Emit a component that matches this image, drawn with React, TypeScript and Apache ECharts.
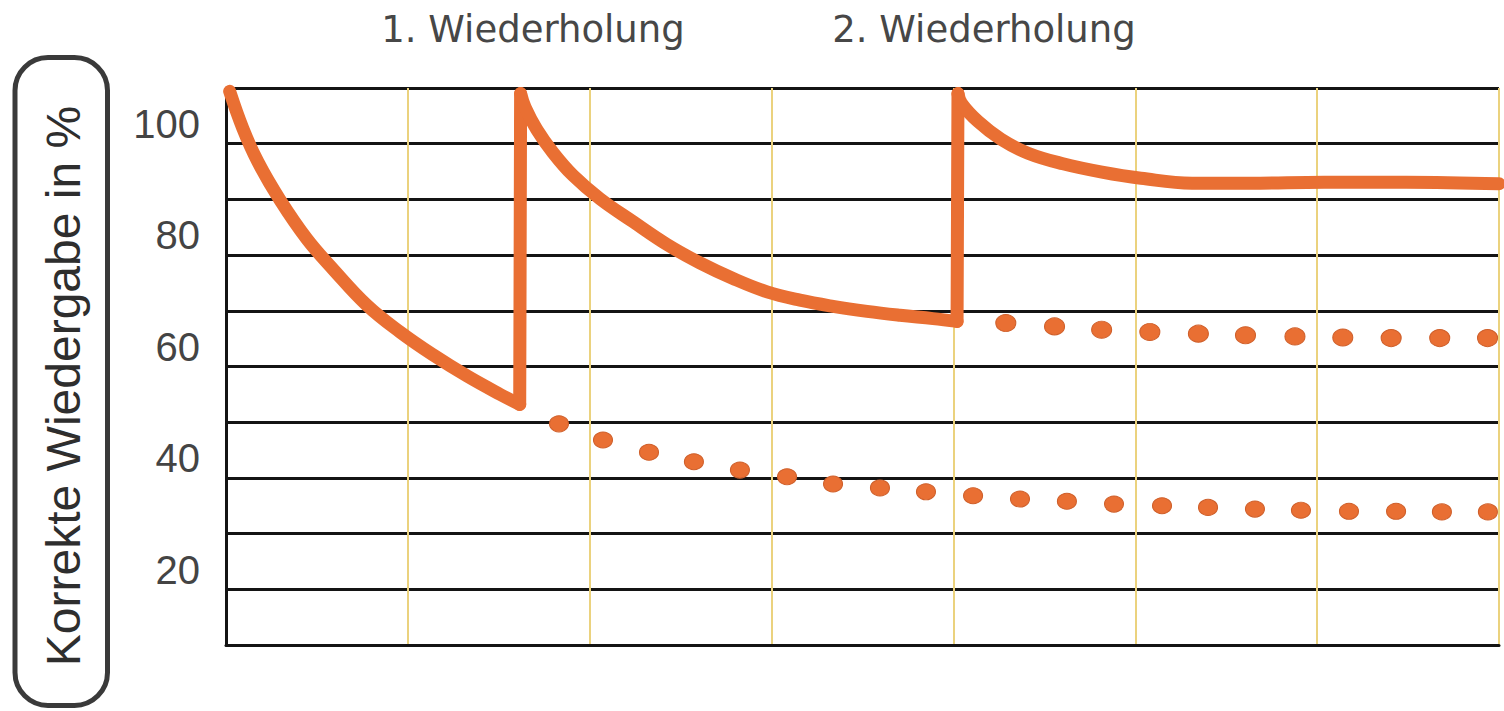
import React, { useEffect, useRef } from "react";
import * as echarts from "echarts";

// ---- data (x: grid columns 0..7, y: percent) ----
const yTickLabels = [20, 40, 60, 80, 100];
const repetitionLabels = ["1. Wiederholung", "2. Wiederholung"];
const yAxisTitle = "Korrekte Wiedergabe in %";

const curveBeforeFirst: [number, number][] = [
  [0.02, 99.4], [0.093, 92.7], [0.176, 86.7], [0.297, 79.9], [0.445, 72.9],
  [0.588, 67.5], [0.775, 61.0], [0.957, 56.2], [1.138, 52.1], [1.325, 48.3],
  [1.507, 45.0], [1.615, 43.2],
];
const curveAfterFirst: [number, number][] = [
  [1.62, 99.0], [1.645, 96.5], [1.708, 92.6], [1.798, 88.4], [1.908, 84.3],
  [2.057, 80.1], [2.238, 76.0], [2.425, 71.9], [2.606, 68.6], [2.788, 65.8],
  [2.975, 63.4], [3.156, 61.9], [3.338, 60.8], [3.525, 59.9], [3.706, 59.2],
  [3.888, 58.6], [4.02, 58.1],
];
const curveAfterSecond: [number, number][] = [
  [4.025, 99.0], [4.045, 97.2], [4.135, 94.0], [4.262, 90.8], [4.41, 88.3],
  [4.602, 86.4], [4.817, 84.9], [5.031, 83.8], [5.312, 82.9], [5.631, 82.9],
  [6.038, 83.1], [6.489, 83.1], [7.0, 82.8],
];
const forgettingNoRepetition: [number, number][] = [
  [1.831, 39.7], [2.073, 36.8], [2.326, 34.6], [2.573, 32.9], [2.826, 31.4],
  [3.085, 30.2], [3.338, 28.9], [3.596, 28.2], [3.849, 27.5], [4.108, 26.8],
  [4.366, 26.2], [4.624, 25.8], [4.883, 25.3], [5.147, 25.0], [5.4, 24.7],
  [5.658, 24.4], [5.911, 24.2], [6.175, 24.0], [6.434, 24.0], [6.686, 23.9],
  [6.939, 23.9],
];
const forgettingOneRepetition: [number, number][] = [
  [4.288, 57.8], [4.556, 57.2], [4.815, 56.6], [5.08, 56.2], [5.347, 55.9],
  [5.606, 55.6], [5.878, 55.4], [6.141, 55.2], [6.407, 55.1], [6.674, 55.1],
  [6.937, 55.1],
];

const ORANGE = "#e96f33";

export default function App() {
  const ref = useRef<HTMLDivElement>(null);

  useEffect(() => {
    if (!ref.current) return;
    const chart = echarts.init(ref.current, null, { renderer: "svg" });

    const curveStyle = { color: ORANGE, width: 13, join: "round", cap: "round" };
    const curve = (data: [number, number][]) => ({
      type: "line",
      z: 5,
      data,
      symbol: "none",
      showSymbol: false,
      smooth: 0.4,
      lineStyle: curveStyle,
    });
    const jump = (from: [number, number], to: [number, number]) => ({
      type: "line",
      z: 5,
      data: [from, to],
      symbol: "none",
      showSymbol: false,
      lineStyle: curveStyle,
    });
    const last = (a: [number, number][]) => a[a.length - 1];

    const option: any = {
      animation: false,
      backgroundColor: "#ffffff",
      grid: { left: 226, right: 5, top: 88, bottom: 66, containLabel: false },
      xAxis: {
        type: "value",
        min: 0,
        max: 7,
        interval: 1,
        z: 2,
        axisLine: { show: true, onZero: false, lineStyle: { color: "#141414", width: 3 } },
        axisTick: { show: false },
        axisLabel: { show: false },
        splitLine: {
          show: true,
          showMinLine: false,
          lineStyle: { color: "#ebd27e", width: 2 },
        },
      },
      yAxis: {
        type: "value",
        min: 0,
        max: 100,
        interval: 10,
        z: 0,
        axisLine: { show: true, lineStyle: { color: "#141414", width: 3 } },
        axisTick: { show: false },
        axisLabel: {
          show: true,
          margin: 26,
          fontSize: 40,
          fontFamily: "Liberation Sans",
          color: "#444444",
          verticalAlign: "top",
          lineHeight: 72,
          formatter: (v: number) => (yTickLabels.indexOf(v) >= 0 ? String(v) : ""),
        },
        splitLine: { show: true, lineStyle: { color: "#141414", width: 3 } },
      },
      series: [
        curve(curveBeforeFirst),
        jump(last(curveBeforeFirst), curveAfterFirst[0]),
        curve(curveAfterFirst),
        jump(last(curveAfterFirst), curveAfterSecond[0]),
        curve(curveAfterSecond),
        {
          type: "scatter",
          z: 5,
          data: forgettingNoRepetition,
          symbol: "circle",
          symbolSize: [19, 16],
          itemStyle: { color: ORANGE, opacity: 1, borderColor: "#cf5f2a", borderWidth: 1 },
        },
        {
          type: "scatter",
          z: 5,
          data: forgettingOneRepetition,
          symbol: "circle",
          symbolSize: [20, 17],
          itemStyle: { color: ORANGE, opacity: 1, borderColor: "#cf5f2a", borderWidth: 1 },
        },
      ],
      graphic: [
        {
          type: "rect",
          shape: { x: 15, y: 57.5, width: 92.5, height: 648, r: 33 },
          style: { fill: "none", stroke: "#3a3a3a", lineWidth: 5 },
        },
        {
          type: "text",
          x: 63,
          y: 386,
          rotation: Math.PI / 2,
          style: {
            text: yAxisTitle,
            fontSize: 48,
            fontFamily: "Liberation Sans",
            fill: "#2e2e2e",
            align: "center",
            verticalAlign: "middle",
          },
        },
        {
          type: "text",
          x: 533,
          y: 29,
          style: {
            text: repetitionLabels[0],
            fontSize: 37,
            fontFamily: "DejaVu Sans",
            fill: "#474747",
            align: "center",
            verticalAlign: "middle",
          },
        },
        {
          type: "text",
          x: 984,
          y: 29,
          style: {
            text: repetitionLabels[1],
            fontSize: 37,
            fontFamily: "DejaVu Sans",
            fill: "#474747",
            align: "center",
            verticalAlign: "middle",
          },
        },
      ],
    };

    chart.setOption(option);
    return () => chart.dispose();
  }, []);

  return (
    <div
      ref={ref}
      style={{ position: "absolute", left: 0, top: 0, width: 1504, height: 711, background: "#fff" }}
    />
  );
}
